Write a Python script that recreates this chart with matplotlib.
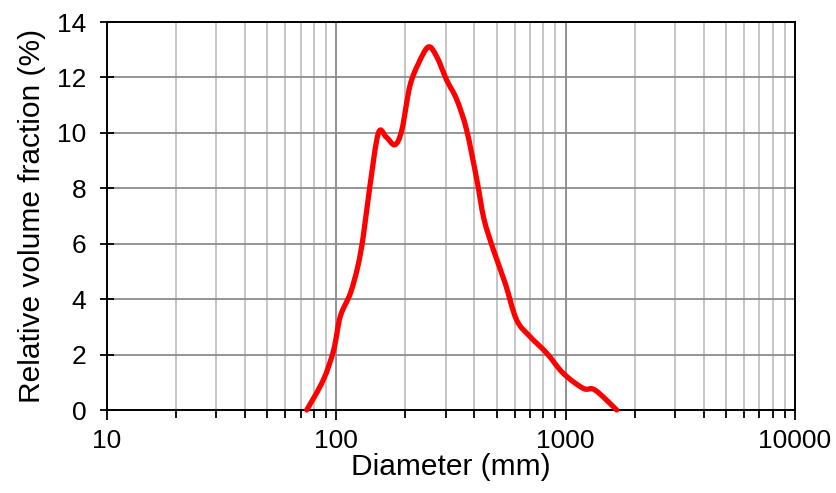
import matplotlib
matplotlib.use("Agg")
import matplotlib.pyplot as plt
import numpy as np
from matplotlib.path import Path
from matplotlib.patches import PathPatch
from matplotlib.ticker import LogLocator, NullFormatter, FixedLocator, FixedFormatter

plt.rcParams['font.family'] = ['Liberation Sans', 'DejaVu Sans']

diameter = [74.3, 87.7, 97.4, 104, 115, 124, 131, 140, 152.5, 165, 180, 193, 209, 228, 252,
            274, 303, 335, 370, 410, 440, 484, 545, 611, 699, 827, 977, 1194, 1343, 1670]
fraction = [0.0, 1.08, 2.17, 3.37, 4.2, 5.17, 6.26, 8.06, 9.99, 9.85, 9.57, 10.1, 11.67, 12.5, 13.1,
            12.75, 11.9, 11.2, 10.1, 8.3, 6.9, 5.78, 4.57, 3.25, 2.65, 2.05, 1.32, 0.78, 0.72, 0.0]

xticks = [10, 100, 1000, 10000]
xticklabels = ['10', '100', '1000', '10000']
yticks = [0, 2, 4, 6, 8, 10, 12, 14]

fig = plt.figure(figsize=(8.36, 4.93), dpi=100)
ax = fig.add_axes([107/836, 1 - 410/493, (795-107)/836, (410-22)/493])

ax.set_xscale('log')
ax.set_xlim(10, 10000)
ax.set_ylim(0, 14)

# Smoothed line (Bezier through the data points, like a spreadsheet "smoothed line")
lx = np.log10(diameter)
fy = np.array(fraction, dtype=float)
n = len(lx)
verts = [(diameter[0], fy[0])]
codes = [Path.MOVETO]
for i in range(n - 1):
    i0 = max(i - 1, 0)
    i3 = min(i + 2, n - 1)
    c1x = lx[i] + (lx[i + 1] - lx[i0]) / 6.0
    c1y = fy[i] + (fy[i + 1] - fy[i0]) / 6.0
    c2x = lx[i + 1] - (lx[i3] - lx[i]) / 6.0
    c2y = fy[i + 1] - (fy[i3] - fy[i]) / 6.0
    verts += [(10 ** c1x, c1y), (10 ** c2x, c2y), (diameter[i + 1], fy[i + 1])]
    codes += [Path.CURVE4] * 3
patch = PathPatch(Path(verts, codes), facecolor='none', edgecolor='#ff0000', lw=3.8,
                  capstyle='round', joinstyle='round', zorder=3, clip_on=False)
ax.add_patch(patch)

ax.xaxis.set_major_locator(FixedLocator(xticks))
ax.xaxis.set_major_formatter(FixedFormatter(xticklabels))
ax.xaxis.set_minor_locator(LogLocator(base=10, subs=range(2, 10), numticks=20))
ax.xaxis.set_minor_formatter(NullFormatter())
ax.set_yticks(yticks)

ax.grid(True, which='major', axis='x', color='#888888', lw=1.3)
ax.grid(True, which='minor', axis='x', color='#c0c0c0', lw=1.3)
ax.grid(True, which='major', axis='y', color='#8c8c8c', lw=1.3)
ax.set_axisbelow(True)

for s in ax.spines.values():
    s.set_color('black')
    s.set_linewidth(1.4)

ax.tick_params(axis='x', which='major', direction='out', length=7, width=1.3,
               labelsize=19, pad=7, colors='black')
ax.tick_params(axis='x', which='minor', direction='out', length=6, width=1.3)
ax.tick_params(axis='y', which='major', direction='inout', length=10, width=1.3,
               labelsize=19, pad=10)

ax.set_xlabel('Diameter (mm)', fontsize=21.5, labelpad=0)
ax.set_ylabel('Relative volume fraction (%)', fontsize=21.5, labelpad=8)

fig.savefig('out.png', dpi=100)
